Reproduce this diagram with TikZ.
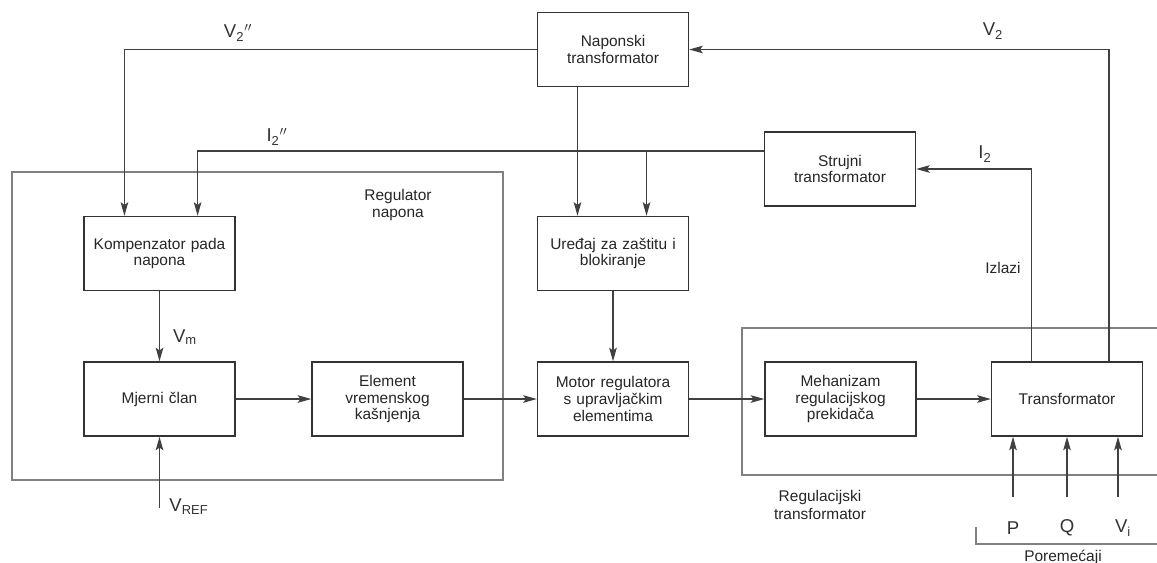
\documentclass[tikz,border=0pt]{standalone}
\usepackage{fontspec}
\setmainfont{Liberation Sans}
\usetikzlibrary{arrows.meta, positioning, calc}

\begin{document}
\begin{tikzpicture}[
  x=0.025cm, y=-0.025cm,
  blok/.style={draw=black!80, line width=1pt, minimum width=3.775cm, minimum height=1.85cm,
    text width=3.6cm, align=center, inner sep=2pt, text=black!85,
    font=\fontsize{11}{11.8}\selectfont},
  grupa/.style={draw=black!50, line width=0.9pt},
  veza/.style={draw=black!75, line width=0.9pt},
  strel/.style={veza, -{Stealth[length=0.34cm, width=0.19cm, inset=0.07cm]}},
  oznaka/.style={font=\fontsize{13.2}{14}\selectfont, text=black!80, inner sep=0pt},
  tekst/.style={font=\fontsize{11}{12.2}\selectfont, text=black!85, align=center, inner sep=0pt}
]
  \useasboundingbox (0,0) rectangle (1157,562);

  % Grupe
  \draw[grupa] (12,172) rectangle (503,480);
  \draw[grupa] (1157,328) -- (742,328) -- (742,475) -- (1157,475);
  \node[tekst] (regnap) at (398,205) {Regulator\\napona};
  \node[tekst] (regtr) at (820,505) {Regulacijski\\transformator};

  % Blokovi
  \node[blok] (nap) at (613,49.5) {Naponski\\transformator};
  \node[blok] (stru) at (840,169) {Strujni\\transformator};
  \node[blok] (komp) at (159.5,253.5) {Kompenzator pada\\napona};
  \node[blok] (ured) at (613,253.5) {Uređaj za zaštitu i\\blokiranje};
  \node[blok] (mjer) at (159.5,399) {Mjerni član};
  \node[blok] (elem) at (387.5,399) {Element\\vremenskog\\kašnjenja};
  \node[blok] (motor) at (613,399) {Motor regulatora\\s upravljačkim\\elementima};
  \node[blok] (meh) at (840.5,399) {Mehanizam\\regulacijskog\\prekidača};
  \node[blok] (trafo) at (1067,399) {Transformator};

  % Tocke prikljucaka
  \coordinate (kompV) at ($(komp.north west)!0.27!(komp.north east)$);
  \coordinate (kompI) at ($(komp.north west)!0.75!(komp.north east)$);
  \coordinate (napS) at ($(nap.south west)!0.267!(nap.south east)$);
  \coordinate (uredV) at ($(ured.north west)!0.267!(ured.north east)$);
  \coordinate (uredI) at ($(ured.north west)!0.72!(ured.north east)$);
  \coordinate (struI) at ($(stru.north west)!0.26!(stru.south west)$);
  \coordinate (trafoI) at ($(trafo.north west)!0.265!(trafo.north east)$);
  \coordinate (trafoV) at ($(trafo.north west)!0.775!(trafo.north east)$);
  \coordinate (vref) at (159.5,508);
  \coordinate (ulP) at (1013,497);
  \coordinate (ulQ) at (1067,497);
  \coordinate (ulV) at (1118,497);

  % Povratne veze
  \draw[strel] (nap.west) -| (kompV);
  \draw[strel] (struI) -| (kompI);
  \draw[strel] (uredI |- struI) -- (uredI);
  \draw[strel] (napS) -- (uredV);
  \draw[strel] (trafoI) |- (stru.east);
  \draw[strel] (trafoV) |- (nap.east);

  % Glavni lanac
  \draw[strel] (komp.south) -- (mjer.north);
  \draw[strel] (vref) -- (mjer.south);
  \draw[strel] (ured.south) -- (motor.north);
  \draw[strel] (mjer.east) -- (elem.west);
  \draw[strel] (elem.east) -- (motor.west);
  \draw[strel] (motor.east) -- (meh.west);
  \draw[strel] (meh.east) -- (trafo.west);

  % Poremecaji
  \draw[strel] (ulP) -- (ulP |- trafo.south);
  \draw[strel] (ulQ) -- (ulQ |- trafo.south);
  \draw[strel] (ulV) -- (ulV |- trafo.south);
  \draw[grupa] (976,527) -- (976,544) -- (1157,544);
  \node[tekst] (porem) at (1063,557) {Poremećaji};
  \node[tekst] (izl) at (1003,268) {Izlazi};

  % Oznake signala
  \node[oznaka] (lV2s) at (238,33) {V\textsubscript{2}$^{\prime\prime}$};
  \node[oznaka] (lI2s) at (277,137) {I\textsubscript{2}$^{\prime\prime}$};
  \node[oznaka] (lV2) at (993,31) {V\textsubscript{2}};
  \node[oznaka] (lI2) at (985,154) {I\textsubscript{2}};
  \node[oznaka] (lVm) at (185,337) {V\textsubscript{m}};
  \node[oznaka] (lVref) at (189,507) {V\textsubscript{REF}};
  \node[oznaka] (lP) at (1013,528) {P};
  \node[oznaka] (lQ) at (1067,528) {Q};
  \node[oznaka] (lVi) at (1123,528) {V\textsubscript{i}};
\end{tikzpicture}
\end{document}
